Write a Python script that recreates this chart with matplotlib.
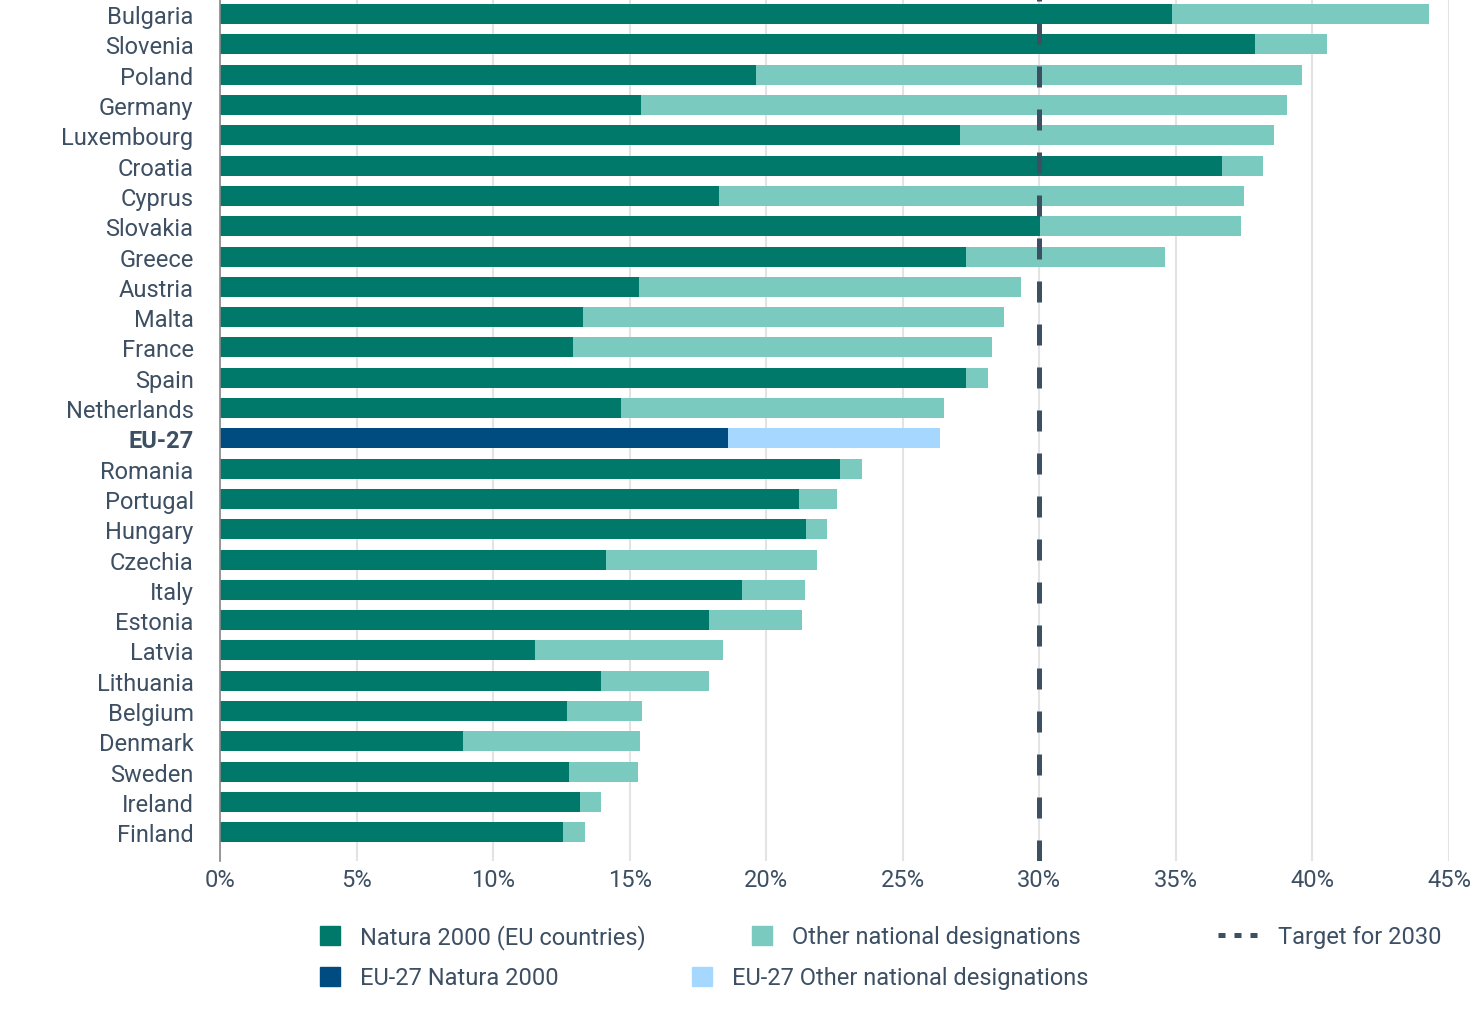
import matplotlib.pyplot as plt
from matplotlib.lines import Line2D
from matplotlib.patches import Patch

plt.rcParams["font.family"] = ["Roboto", "DejaVu Sans"]

countries = ["Bulgaria", "Slovenia", "Poland", "Germany", "Luxembourg", "Croatia",
             "Cyprus", "Slovakia", "Greece", "Austria", "Malta", "France", "Spain",
             "Netherlands", "EU-27", "Romania", "Portugal", "Hungary", "Czechia",
             "Italy", "Estonia", "Latvia", "Lithuania", "Belgium", "Denmark",
             "Sweden", "Ireland", "Finland"]
natura = [34.87, 37.88, 19.63, 15.42, 27.1, 36.7, 18.28, 30.04, 27.3, 15.35,
          13.3, 12.93, 27.3, 14.69, 18.6, 22.7, 21.2, 21.47, 14.14, 19.1,
          17.9, 11.54, 13.96, 12.7, 8.9, 12.78, 13.19, 12.56]
total = [44.25, 40.55, 39.63, 39.08, 38.6, 38.2, 37.5, 37.4, 34.6, 29.34,
         28.7, 28.28, 28.13, 26.5, 26.37, 23.5, 22.6, 22.23, 21.87, 21.43,
         21.3, 18.42, 17.9, 15.46, 15.38, 15.3, 13.96, 13.37]
other = [t - n for t, n in zip(total, natura)]
target = 30
xticks = [0, 5, 10, 15, 20, 25, 30, 35, 40, 45]

TEXT = "#3d4f63"
DARK = "#00796b"
LIGHT = "#7acac0"
EU_DARK = "#004b7f"
EU_LIGHT = "#a6d8ff"
FS = 17

fig = plt.figure(figsize=(14.71, 10.2), dpi=100)
W, H = 1471, 1020
ax = fig.add_axes([220 / W, 1 - 862 / H, (1449 - 220) / W, 862 / H])

dark_cols = [EU_DARK if c == "EU-27" else DARK for c in countries]
light_cols = [EU_LIGHT if c == "EU-27" else LIGHT for c in countries]
ypos = list(range(len(countries)))
ax.barh(ypos, natura, height=0.66, color=dark_cols, zorder=2)
ax.barh(ypos, other, left=natura, height=0.66, color=light_cols, zorder=2)

ax.axvline(target, color=TEXT, lw=3.6, dashes=(4.2, 4.4), solid_capstyle="butt",
           dash_capstyle="butt", zorder=3)

ax.set_ylim(len(countries) - 0.05, -0.5)
ax.set_xlim(0, 45)
ax.set_xticks(xticks)
ax.set_xticklabels([f"{t}%" for t in xticks])
ax.set_yticks(ypos)
ax.set_yticklabels(countries)
for lbl in ax.get_yticklabels():
    if lbl.get_text() == "EU-27":
        lbl.set_fontweight("bold")
ax.tick_params(length=0, labelsize=FS, colors=TEXT)
ax.tick_params(axis="y", pad=19)
ax.tick_params(axis="x", pad=5)
ax.grid(axis="x", color="#e3e3e3", lw=1.5, zorder=0)
for s in ["top", "right", "bottom"]:
    ax.spines[s].set_visible(False)
ax.spines["left"].set_color("#888888")
ax.spines["left"].set_linewidth(1.2)
ax.set_axisbelow(True)


def legend_item(handle, label, x, y, hl=0.85):
    leg = fig.legend([handle], [label], loc="center left",
                     bbox_to_anchor=(x / W, 1 - y / H), frameon=False,
                     fontsize=FS, labelcolor=TEXT, handlelength=hl,
                     handleheight=0.85, handletextpad=0.85, borderpad=0,
                     borderaxespad=0)
    return leg


legend_item(Patch(color=DARK), "Natura 2000 (EU countries)", 320, 938)
legend_item(Patch(color=LIGHT), "Other national designations", 752, 938)
legend_item(Line2D([], [], color=TEXT, lw=3.6, dashes=(1.4, 1.8),
                   dash_capstyle="butt"), "Target for 2030", 1218, 938, hl=1.7)
legend_item(Patch(color=EU_DARK), "EU-27 Natura 2000", 320, 979)
legend_item(Patch(color=EU_LIGHT), "EU-27 Other national designations", 692, 979)

fig.savefig("out.png", dpi=100)
